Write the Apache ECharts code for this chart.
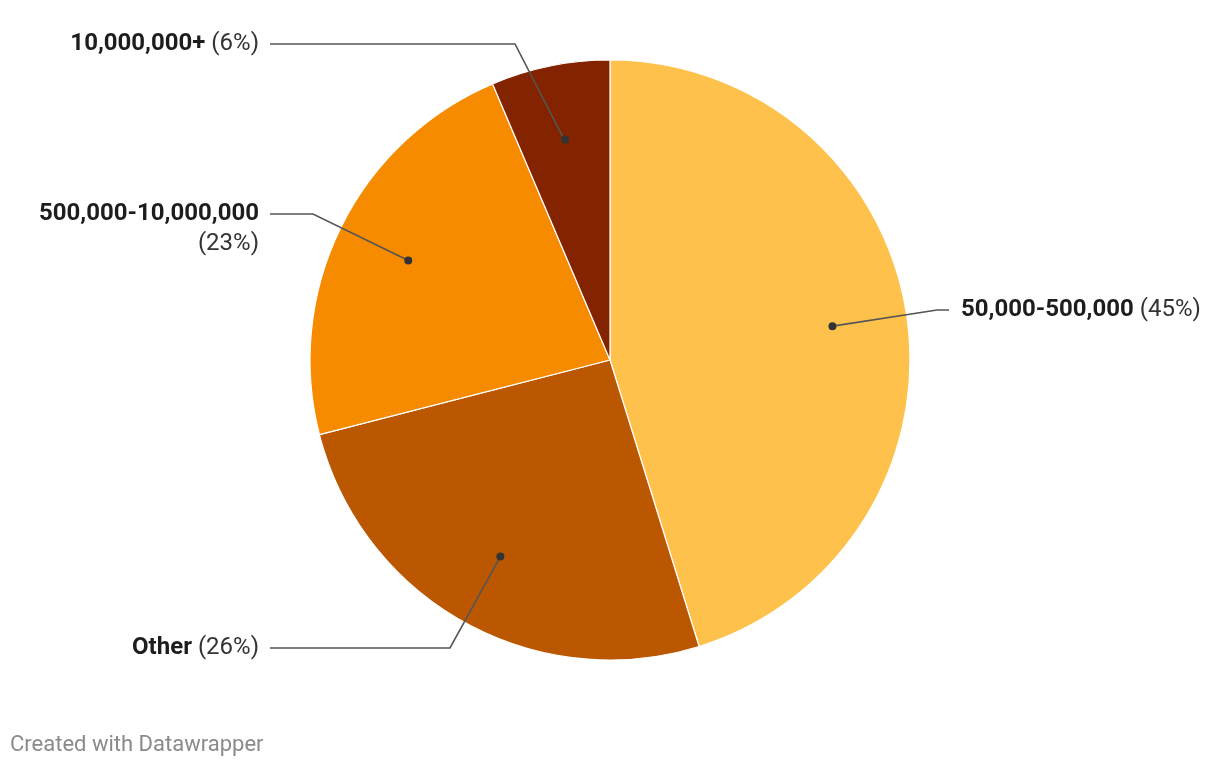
<!DOCTYPE html>
<html>
<head>
<meta charset="utf-8">
<script src="https://cdn.jsdelivr.net/npm/echarts@6/dist/echarts.min.js"></script>
<style>
html,body{margin:0;padding:0;background:#fff;}
#chart{width:1220px;height:766px;}
</style>
</head>
<body>
<div id="chart"></div>
<script>
// ---- data ----
const categories = ['50,000-500,000', 'Other', '500,000-10,000,000', '10,000,000+'];
const shares = [45.2, 25.8, 22.6, 6.4];
const sliceColors = ['#FEC24C', '#BB5700', '#F78B00', '#832300'];
const footerText = 'Created with Datawrapper';

// ---- layout (not data) ----
const CX = 610, CY = 360, R = 300, DOT_R = 222;
const labelSide = ['right', 'left', 'left', 'left'];
const labelLineY = [310, 648, 214, 44];
const elbowX = [937, 450, 313, 515];
const LEFT_LABEL_X = 259, LEFT_LINE_END = 270;
const RIGHT_LABEL_X = 961, RIGHT_LINE_END = 949;
const LINE_H = 30;
const FS = 24;

const total = shares.reduce((a, b) => a + b, 0);
function midAngle(i) {
  let cum = 0;
  for (let k = 0; k < i; k++) cum += shares[k];
  return ((cum + shares[i] / 2) / total) * Math.PI * 2;
}
function wraps(i) { return categories[i].length > 15; }

const basePie = {
  type: 'pie',
  center: [CX, CY],
  startAngle: 90,
  clockwise: true,
  silent: true,
  avoidLabelOverlap: false,
  emphasis: { disabled: true }
};

const chart = echarts.init(document.getElementById('chart'), null, { renderer: 'canvas' });
chart.setOption({
  animation: false,
  backgroundColor: '#fff',
  title: {
    text: footerText,
    left: 5, top: 729,
    textStyle: { fontFamily: 'Roboto', fontSize: 22, fontWeight: 'normal', color: '#8a8a8a' }
  },
  series: [
    Object.assign({}, basePie, {
      radius: [0, R],
      z: 2,
      itemStyle: { borderColor: '#fff', borderWidth: 1.2 },
      data: categories.map((c, i) => ({ name: c, value: shares[i], itemStyle: { color: sliceColors[i] } })),
      label: { show: false },
      labelLine: { show: false }
    }),
    Object.assign({}, basePie, {
      radius: [0, R],
      z: 4,
      itemStyle: { color: 'rgba(0,0,0,0)', borderWidth: 0 },
      data: categories.map((c, i) => ({ name: c, value: shares[i] })),
      label: {
        show: true,
        position: 'outside',
        fontFamily: 'Roboto',
        fontSize: FS,
        lineHeight: LINE_H,
        formatter: function (p) {
          const pct = Math.round(p.value / total * 100);
          const sep = wraps(p.dataIndex) ? '\n' : ' ';
          return '{b|' + p.name + '}' + sep + '{p|(' + pct + '%)}';
        },
        rich: {
          b: { fontFamily: 'Roboto', fontSize: FS, fontWeight: 'bold', color: '#1d1d1d', lineHeight: LINE_H },
          p: { fontFamily: 'Roboto', fontSize: FS, fontWeight: 'normal', color: '#333', lineHeight: LINE_H }
        }
      },
      labelLine: { show: true, lineStyle: { color: '#555', width: 1.6 } },
      labelLayout: function (params) {
        const i = params.dataIndex;
        const a = midAngle(i);
        const dot = [CX + DOT_R * Math.sin(a), CY - DOT_R * Math.cos(a)];
        const ly = labelLineY[i];
        const right = labelSide[i] === 'right';
        const lineEnd = right ? RIGHT_LINE_END : LEFT_LINE_END;
        return {
          x: right ? RIGHT_LABEL_X : LEFT_LABEL_X,
          y: ly + (wraps(i) ? LINE_H / 2 : 0),
          align: right ? 'left' : 'right',
          verticalAlign: 'middle',
          labelLinePoints: [dot, [elbowX[i], ly], [lineEnd, ly]]
        };
      }
    }),
    Object.assign({}, basePie, {
      radius: [DOT_R * 2 - R, R],
      z: 6,
      itemStyle: { color: 'rgba(0,0,0,0)', borderWidth: 0 },
      data: categories.map((c, i) => ({ name: c, value: shares[i] })),
      label: {
        show: true,
        position: 'inside',
        formatter: '{d|}',
        rich: { d: { width: 8, height: 8, borderRadius: 4, backgroundColor: '#333', lineHeight: 8, fontSize: 1 } }
      },
      labelLine: { show: false }
    })
  ]
});
</script>
</body>
</html>
